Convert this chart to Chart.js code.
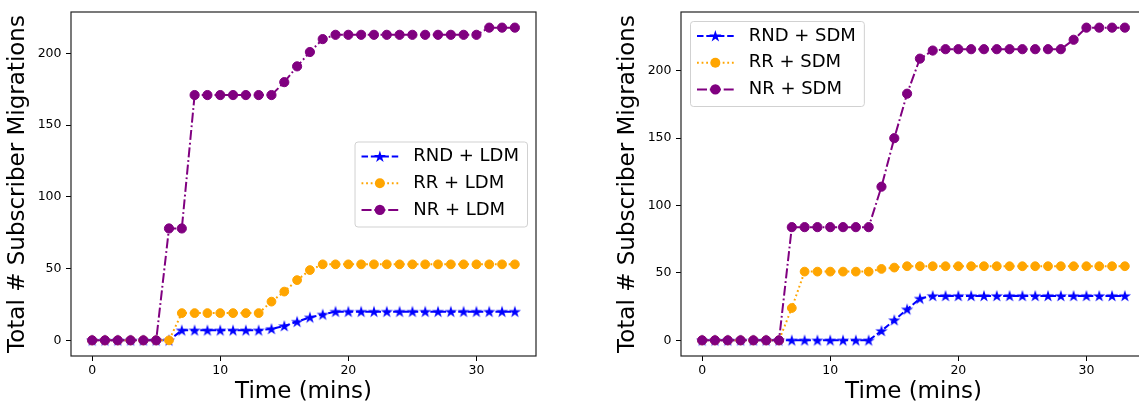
<!DOCTYPE html>
<html>
<head>
<meta charset="utf-8">
<script src="https://cdn.jsdelivr.net/npm/chart.js@4.4.1/dist/chart.umd.min.js"></script>
<style>
  html, body { margin: 0; padding: 0; background: #fff; overflow: hidden; width: 1139px; height: 406px; }
  .panel { position: absolute; top: 0; width: 560px; height: 406px; }
  #left { left: 0; }
  #right { left: 610px; }
</style>
</head>
<body>
<div class="panel" id="left"><canvas id="cLeft" width="560" height="406"></canvas></div>
<div class="panel" id="right"><canvas id="cRight" width="560" height="406"></canvas></div>
<script>
// Time axis (minutes)
const times = [0,1,2,3,4,5,6,7,8,9,10,11,12,13,14,15,16,17,18,19,20,21,22,23,24,25,26,27,28,29,30,31,32,33];

// Cumulative subscriber migrations, LDM strategies
const rndLdm = [0,0,0,0,0,0,0,7,7,7,7,7,7,7,8,10,13,16,18,20,20,20,20,20,20,20,20,20,20,20,20,20,20,20];
const rrLdm  = [0,0,0,0,0,0,0,19,19,19,19,19,19,19,27,34,42,49,53,53,53,53,53,53,53,53,53,53,53,53,53,53,53,53];
const nrLdm  = [0,0,0,0,0,0,78,78,171,171,171,171,171,171,171,180,191,201,210,213,213,213,213,213,213,213,213,213,213,213,213,218,218,218];

// Cumulative subscriber migrations, SDM strategies
const rndSdm = [0,0,0,0,0,0,0,0,0,0,0,0,0,0,7,15,23,31,33,33,33,33,33,33,33,33,33,33,33,33,33,33,33,33];
const rrSdm  = [0,0,0,0,0,0,0,24,51,51,51,51,51,51,53,54,55,55,55,55,55,55,55,55,55,55,55,55,55,55,55,55,55,55];
const nrSdm  = [0,0,0,0,0,0,0,84,84,84,84,84,84,84,114,150,183,209,215,216,216,216,216,216,216,216,216,216,216,223,232,232,232,232];

const xTicks = [0, 10, 20, 30];
const yTicks = [0, 50, 100, 150, 200];
const labelsLdm = ['RND + LDM', 'RR + LDM', 'NR + LDM'];
const labelsSdm = ['RND + SDM', 'RR + SDM', 'NR + SDM'];

const FONT = "'DejaVu Sans', sans-serif";
const BLUE = '#0000ff', ORANGE = '#ffa500', PURPLE = '#800080';
const DASHED = [6.5, 2.8], DOTTED = [1.8, 2.8], DASHDOT = [10, 2.8, 1.8, 2.8];

function starPath(ctx, cx, cy, R) {
  const r = R * 0.382;
  ctx.beginPath();
  for (let i = 0; i < 10; i++) {
    const rad = i % 2 === 0 ? R : r;
    const ang = -Math.PI / 2 + i * Math.PI / 5;
    const px = cx + rad * Math.cos(ang), py = cy + rad * Math.sin(ang);
    if (i === 0) ctx.moveTo(px, py); else ctx.lineTo(px, py);
  }
  ctx.closePath();
}

// Filled five-point star used as a point marker
const starImg = document.createElement('canvas');
starImg.width = 14; starImg.height = 14;
(function () {
  const c = starImg.getContext('2d');
  starPath(c, 7, 7.4, 6.4);
  c.fillStyle = BLUE;
  c.fill();
})();

function makeDatasets(names, rnd, rr, nr) {
  const pts = arr => times.map((t, i) => ({ x: t, y: arr[i] }));
  return [
    { label: names[0], data: pts(rnd), borderColor: BLUE, backgroundColor: BLUE, borderDash: DASHED,
      borderWidth: 2, pointStyle: starImg, pointRadius: 6, order: 2, marker: 'star' },
    { label: names[1], data: pts(rr), borderColor: ORANGE, backgroundColor: ORANGE, borderDash: DOTTED,
      borderWidth: 2, pointStyle: 'circle', pointRadius: 4.4, pointBorderWidth: 1, order: 1, marker: 'circle' },
    { label: names[2], data: pts(nr), borderColor: PURPLE, backgroundColor: PURPLE, borderDash: DASHDOT,
      borderWidth: 2, pointStyle: 'circle', pointRadius: 4.6, pointBorderWidth: 1, order: 0, marker: 'circle' }
  ];
}

// Axes frame plus an in-plot legend box
const framePlugin = {
  id: 'framePlugin',
  afterDraw(chart, args, opts) {
    const { ctx, chartArea: a } = chart;
    ctx.save();
    // legend
    const ds = chart.data.datasets;
    ctx.font = '18px ' + FONT;
    let tw = 0;
    ds.forEach(d => { tw = Math.max(tw, ctx.measureText(d.label).width); });
    const bw = 7 + 51.7 + tw + 8, bh = 85;
    let bx, by;
    if (opts.loc === 'center right') { bx = a.right - 9 - bw; by = (a.top + a.bottom) / 2 - bh / 2; }
    else { bx = a.left + 9; by = a.top + 9; }
    ctx.beginPath();
    ctx.roundRect(bx + 0.5, by + 0.5, bw, bh, 3);
    ctx.fillStyle = 'rgba(255,255,255,0.8)';
    ctx.fill();
    ctx.strokeStyle = 'rgba(204,204,204,0.9)';
    ctx.lineWidth = 1;
    ctx.stroke();
    ds.forEach((d, i) => {
      const cy = by + 15 + i * 26.7;
      const x0 = bx + 7, x1 = x0 + 36.7, xm = (x0 + x1) / 2;
      ctx.strokeStyle = d.borderColor;
      ctx.lineWidth = d.borderWidth;
      // each half of the sample line starts from its outer end
      [[x0, xm], [x1, xm]].forEach(([from, to]) => {
        ctx.beginPath();
        ctx.setLineDash(d.borderDash);
        ctx.moveTo(from, cy); ctx.lineTo(to, cy);
        ctx.stroke();
      });
      ctx.setLineDash([]);
      ctx.fillStyle = d.borderColor;
      if (d.marker === 'star') { starPath(ctx, xm, cy + 0.4, 6.4); ctx.fill(); }
      else { ctx.beginPath(); ctx.arc(xm, cy, d.pointRadius + 0.6, 0, Math.PI * 2); ctx.fill(); }
      ctx.fillStyle = '#000';
      ctx.textBaseline = 'middle';
      ctx.textAlign = 'left';
      ctx.fillText(d.label, x0 + 51.7, cy);
    });
    // spines
    ctx.strokeStyle = '#222';
    ctx.lineWidth = 1.2;
    ctx.strokeRect(a.left, a.top, a.right - a.left, a.bottom - a.top);
    ctx.restore();
  }
};

function makeChart(id, names, rnd, rr, nr, legendLoc) {
  const all = rnd.concat(rr, nr);
  const lo = Math.min(...all), hi = Math.max(...all);
  const m = (hi - lo) * 0.05;
  const xm = (times[times.length - 1] - times[0]) * 0.05;
  return new Chart(document.getElementById(id), {
    type: 'line',
    data: { datasets: makeDatasets(names, rnd, rr, nr) },
    plugins: [framePlugin],
    options: {
      responsive: false,
      animation: false,
      events: [],
      layout: { padding: { left: 0, right: 24, top: 10, bottom: 0 } },
      elements: { line: { tension: 0 } },
      plugins: { legend: { display: false }, tooltip: { enabled: false }, framePlugin: { loc: legendLoc } },
      scales: {
        x: {
          type: 'linear',
          min: times[0] - xm, max: times[times.length - 1] + xm,
          afterBuildTicks: s => { s.ticks = xTicks.map(v => ({ value: v })); },
          afterFit: s => { s.height = 50; },
          border: { display: false },
          grid: { display: true, drawOnChartArea: false, drawTicks: true, tickLength: 5, color: '#000', lineWidth: 1 },
          ticks: { font: { family: FONT, size: 12.5 }, color: '#000', padding: 2.5, maxRotation: 0 },
          title: { display: true, text: 'Time (mins)', font: { family: FONT, size: 23 }, color: '#000', padding: { top: 0, bottom: 0 } }
        },
        y: {
          type: 'linear',
          min: lo - m, max: hi + m,
          afterBuildTicks: s => { s.ticks = yTicks.map(v => ({ value: v })); },
          afterFit: s => { s.width = 71; },
          border: { display: false },
          grid: { display: true, drawOnChartArea: false, drawTicks: true, tickLength: 5, color: '#000', lineWidth: 1 },
          ticks: { font: { family: FONT, size: 12.5 }, color: '#000', padding: 4.5 },
          title: { display: true, text: 'Total # Subscriber Migrations', font: { family: FONT, size: 23 }, color: '#000', padding: { top: 4, bottom: 0 } }
        }
      }
    }
  });
}

makeChart('cLeft', labelsLdm, rndLdm, rrLdm, nrLdm, 'center right');
makeChart('cRight', labelsSdm, rndSdm, rrSdm, nrSdm, 'upper left');
</script>
</body>
</html>
